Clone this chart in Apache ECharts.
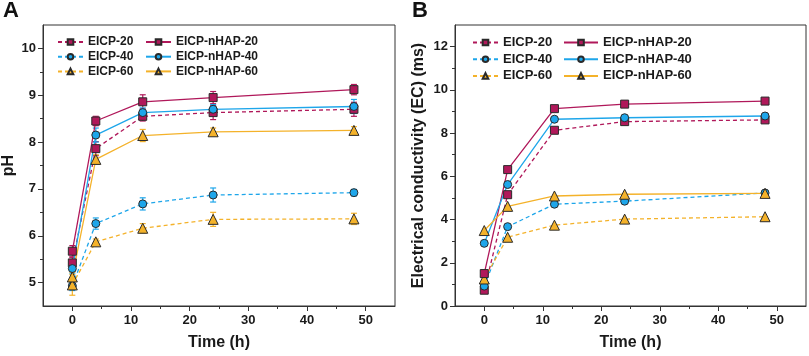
<!DOCTYPE html>
<html>
<head>
<meta charset="utf-8">
<script src="https://cdn.jsdelivr.net/npm/echarts@6/dist/echarts.min.js"></script>
<style>
  html, body { margin: 0; padding: 0; background: #fff; }
  #chart { width: 809px; height: 356px; }
</style>
</head>
<body>
<div id="chart"></div>
<script>
// sampling times (h)
var times = [0, 4, 12, 24, 48];
var names = ['EICP-20', 'EICP-40', 'EICP-60', 'EICP-nHAP-20', 'EICP-nHAP-40', 'EICP-nHAP-60'];

// panel A - pH
var ph_eicp20 = [5.42, 7.86, 8.55, 8.63, 8.70];
var ph_eicp40 = [4.93, 6.26, 6.68, 6.87, 6.92];
var ph_eicp60 = [4.95, 5.87, 6.16, 6.35, 6.36];
var ph_nhap20 = [5.67, 8.45, 8.86, 8.95, 9.12];
var ph_nhap40 = [5.30, 8.15, 8.63, 8.70, 8.76];
var ph_nhap60 = [5.12, 7.63, 8.14, 8.22, 8.25];
// error bars (+/-)
var phErr_eicp20 = [0.12, 0.15, 0.10, 0.15, 0.15];
var phErr_eicp40 = [0.10, 0.12, 0.13, 0.15, 0.07];
var phErr_eicp60 = [0.22, 0.06, 0.10, 0.15, 0.12];
var phErr_nhap20 = [0.12, 0.10, 0.15, 0.13, 0.11];
var phErr_nhap40 = [0.10, 0.15, 0.10, 0.10, 0.15];
var phErr_nhap60 = [0.10, 0.10, 0.13, 0.08, 0.08];

// panel B - electrical conductivity
var ec_eicp20 = [0.73, 5.15, 8.13, 8.53, 8.61];
var ec_eicp40 = [0.92, 3.67, 4.71, 4.85, 5.23];
var ec_eicp60 = [1.25, 3.18, 3.74, 4.02, 4.13];
var ec_nhap20 = [1.50, 6.31, 9.13, 9.34, 9.48];
var ec_nhap40 = [2.90, 5.62, 8.64, 8.71, 8.79];
var ec_nhap60 = [3.49, 4.61, 5.09, 5.17, 5.21];

// tick values
var timeTicks = [0, 10, 20, 30, 40, 50];
var timeMinor = [5, 15, 25, 35, 45];
var phTicks = [5, 6, 7, 8, 9, 10];
var phMinor = [5.5, 6.5, 7.5, 8.5, 9.5];
var ecTicks = [0, 2, 4, 6, 8, 10, 12];
var ecMinor = [1, 3, 5, 7, 9, 11];

var colors = ['#b0185a', '#1ea6ea', '#f4b22a'];
var symbols = ['rect', 'circle', 'triangle'];
var font = 'Liberation Sans, Arial, sans-serif';

var phData = [ph_eicp20, ph_eicp40, ph_eicp60, ph_nhap20, ph_nhap40, ph_nhap60];
var phErr = [phErr_eicp20, phErr_eicp40, phErr_eicp60, phErr_nhap20, phErr_nhap40, phErr_nhap60];
var ecData = [ec_eicp20, ec_eicp40, ec_eicp60, ec_nhap20, ec_nhap40, ec_nhap60];

function pairs(vals) {
  return times.map(function (t, i) { return [t, vals[i]]; });
}

function lineSeries(i, vals, axisIdx) {
  var dashed = i < 3;
  return {
    name: names[i],
    type: 'line',
    xAxisIndex: axisIdx, yAxisIndex: axisIdx,
    data: pairs(vals),
    symbol: symbols[i % 3],
    symbolSize: i % 3 === 2 ? 10 : 8,
    color: colors[i % 3],
    lineStyle: { width: 1.3, type: dashed ? [4, 3] : 'solid', color: colors[i % 3] },
    itemStyle: { color: colors[i % 3], borderColor: '#2a2a2a', borderWidth: 1 },
    z: 3,
    animation: false
  };
}

function errSeries(i, vals, errs, axisIdx) {
  return {
    type: 'custom',
    xAxisIndex: axisIdx, yAxisIndex: axisIdx,
    data: times.map(function (t, k) { return [t, vals[k] - errs[k], vals[k] + errs[k]]; }),
    renderItem: function (params, api) {
      var lo = api.coord([api.value(0), api.value(1)]);
      var hi = api.coord([api.value(0), api.value(2)]);
      var w = 3;
      var st = { stroke: colors[i % 3], lineWidth: 1.2 };
      return {
        type: 'group',
        children: [
          { type: 'line', shape: { x1: lo[0], y1: lo[1], x2: hi[0], y2: hi[1] }, style: st },
          { type: 'line', shape: { x1: lo[0] - w, y1: lo[1], x2: lo[0] + w, y2: lo[1] }, style: st },
          { type: 'line', shape: { x1: hi[0] - w, y1: hi[1], x2: hi[0] + w, y2: hi[1] }, style: st }
        ]
      };
    },
    z: 2,
    silent: true,
    animation: false
  };
}

var labelStyle = { fontFamily: font, fontWeight: 'bold', fontSize: 13, color: '#1a1a1a' };
var nameStyle = { fontFamily: font, fontWeight: 'bold', fontSize: 16, color: '#1a1a1a' };

function xAxes(gridIdx) {
  return [{
    type: 'value', gridIndex: gridIdx, min: -5, max: 55,
    name: 'Time (h)', nameLocation: 'middle', nameGap: 29, nameTextStyle: nameStyle,
    axisLine: { onZero: false, lineStyle: { color: '#333', width: 1 } },
    axisTick: { length: 5, customValues: timeTicks, lineStyle: { color: '#333' } },
    axisLabel: Object.assign({ customValues: timeTicks, margin: 8 }, labelStyle),
    splitLine: { show: false }
  }, {
    type: 'value', gridIndex: gridIdx, min: -5, max: 55, position: 'bottom',
    axisLine: { show: false, onZero: false },
    axisTick: { length: 3, customValues: timeMinor, lineStyle: { color: '#333' } },
    axisLabel: { show: false },
    splitLine: { show: false }
  }];
}

function yAxes(gridIdx, mn, mx, ticks, minor, title, gap) {
  return [{
    type: 'value', gridIndex: gridIdx, min: mn, max: mx, position: 'left',
    name: title, nameLocation: 'middle', nameGap: gap, nameTextStyle: nameStyle,
    axisLine: { show: true, onZero: false, lineStyle: { color: '#333', width: 1 } },
    axisTick: { show: true, length: 5, customValues: ticks, lineStyle: { color: '#333' } },
    axisLabel: Object.assign({ customValues: ticks, margin: 7 }, labelStyle),
    splitLine: { show: false }
  }, {
    type: 'value', gridIndex: gridIdx, min: mn, max: mx, position: 'left',
    axisLine: { show: false, onZero: false },
    axisTick: { show: true, length: 3, customValues: minor, lineStyle: { color: '#333' } },
    axisLabel: { show: false },
    splitLine: { show: false }
  }];
}

var series = [];
// error bars first so markers sit on top
for (var i = 0; i < 6; i++) series.push(errSeries(i, phData[i], phErr[i], 0));
for (var i = 0; i < 6; i++) series.push(lineSeries(i, phData[i], 0));
for (var i = 0; i < 6; i++) series.push(lineSeries(i, ecData[i], 2));
// empty series so the minor-tick axes are bound
series.push({ type: 'line', xAxisIndex: 1, yAxisIndex: 1, data: [], silent: true });
series.push({ type: 'line', xAxisIndex: 3, yAxisIndex: 3, data: [], silent: true });

function legend(left, top, items, gap, size, lineW) {
  return {
    orient: 'vertical', left: left, top: top, data: items,
    itemWidth: lineW, itemHeight: 7, itemGap: gap,
    textStyle: { fontFamily: font, fontWeight: 'bold', fontSize: size, color: '#1a1a1a', lineHeight: size + 2 },
    selectedMode: false, padding: 0
  };
}

var option = {
  backgroundColor: '#fff',
  animation: false,
  title: [
    { text: 'A', left: 3, top: 0, padding: 0, textStyle: { fontFamily: font, fontWeight: 'bold', fontSize: 22, color: '#111' } },
    { text: 'B', left: 412, top: 0, padding: 0, textStyle: { fontFamily: font, fontWeight: 'bold', fontSize: 22, color: '#111' } }
  ],
  grid: [
    { left: 42, top: 25, width: 353, height: 283, show: true, borderColor: '#333', borderWidth: 1, backgroundColor: 'transparent' },
    { left: 455, top: 25, width: 351, height: 283, show: true, borderColor: '#333', borderWidth: 1, backgroundColor: 'transparent' }
  ],
  xAxis: xAxes(0).concat(xAxes(1)),
  yAxis: yAxes(0, 4.5, 10.5, phTicks, phMinor, 'pH', 26)
    .concat(yAxes(1, 0, 13, ecTicks, ecMinor, 'Electrical conductivity (EC) (ms)', 28)),
  legend: [
    legend(57, 35, names.slice(0, 3), 0.7, 12, 25),
    legend(145, 35, names.slice(3), 0.7, 12, 25),
    legend(472, 35, names.slice(0, 3), 1.7, 13, 25),
    legend(563, 35, names.slice(3), 1.7, 13, 34)
  ],
  series: series
};

var chart = echarts.init(document.getElementById('chart'), null, { renderer: 'canvas' });
chart.setOption(option);
</script>
</body>
</html>
